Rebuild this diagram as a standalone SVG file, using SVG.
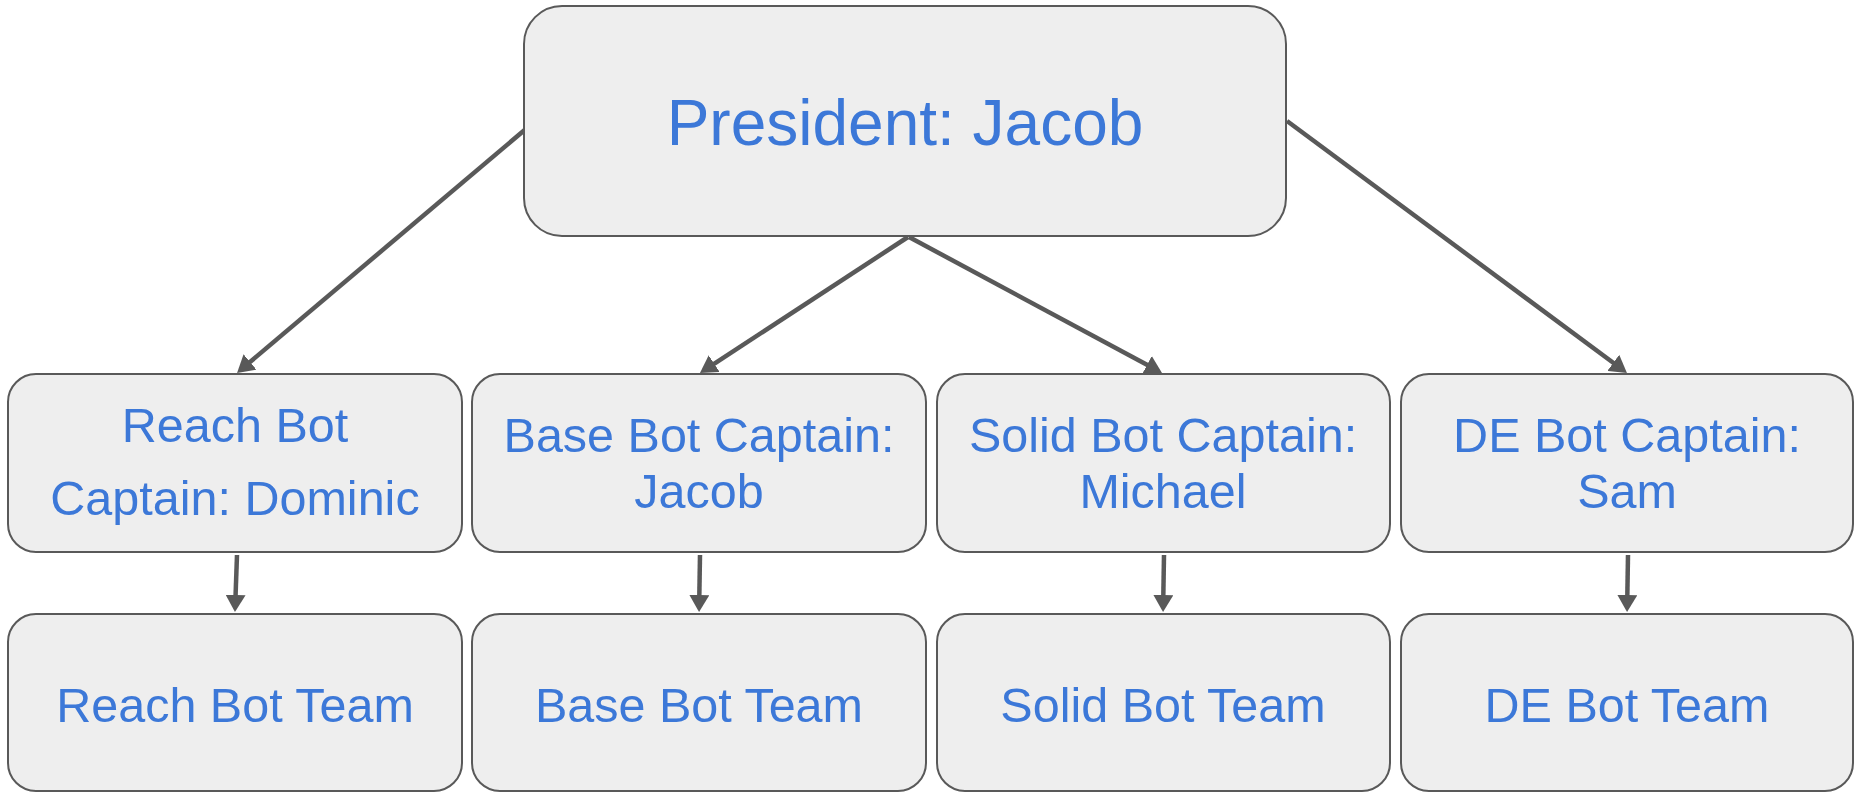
<svg xmlns="http://www.w3.org/2000/svg" width="1856" height="792" viewBox="0 0 1856 792">
<defs>
<style>
.box{fill:#eeeeee;stroke:#595959;stroke-width:2}
.t{fill:#3c78d8;font-family:"Liberation Sans",Arial,sans-serif;font-size:48.5px;text-anchor:middle}
.big{font-size:64px}
.c{stroke:#595959;stroke-width:4.5;fill:none;marker-end:url(#ah)}
</style>
<marker id="ah" markerUnits="userSpaceOnUse" markerWidth="19" markerHeight="20" refX="2" refY="10" orient="auto" viewBox="0 0 19 20">
<path d="M0,0 L17,10 L0,20 z" fill="#595959"/>
</marker>
</defs>
<rect width="1856" height="792" fill="#ffffff"/>
<g id="connectors">
<line class="c" x1="527" y1="128" x2="248.5" y2="363.3"/>
<line class="c" x1="908" y1="237" x2="712.5" y2="364.8"/>
<line class="c" x1="909" y1="237" x2="1148.8" y2="365.8"/>
<line class="c" x1="1287" y1="121" x2="1614.9" y2="364"/>
<line class="c" x1="237" y1="555" x2="235.5" y2="597"/>
<line class="c" x1="700" y1="555" x2="699.3" y2="597"/>
<line class="c" x1="1164" y1="555" x2="1163.3" y2="597"/>
<line class="c" x1="1628" y1="555" x2="1627.3" y2="597"/>
</g>
<g id="president">
<rect class="box" x="524" y="6" width="762" height="230" rx="38"/>
<text class="t big" x="905" y="145">President: Jacob</text>
</g>
<g id="reach-captain">
<rect class="box" x="8" y="374" width="454" height="178" rx="28"/>
<text class="t" x="235" y="442">Reach Bot</text>
<text class="t" x="235" y="515">Captain: Dominic</text>
</g>
<g id="base-captain">
<rect class="box" x="472" y="374" width="454" height="178" rx="28"/>
<text class="t" x="699" y="452">Base Bot Captain:</text>
<text class="t" x="699" y="508">Jacob</text>
</g>
<g id="solid-captain">
<rect class="box" x="937" y="374" width="453" height="178" rx="28"/>
<text class="t" x="1163" y="452">Solid Bot Captain:</text>
<text class="t" x="1163" y="508">Michael</text>
</g>
<g id="de-captain">
<rect class="box" x="1401" y="374" width="452" height="178" rx="28"/>
<text class="t" x="1627" y="452">DE Bot Captain:</text>
<text class="t" x="1627" y="508">Sam</text>
</g>
<g id="reach-team">
<rect class="box" x="8" y="614" width="454" height="177" rx="28"/>
<text class="t" x="235" y="722">Reach Bot Team</text>
</g>
<g id="base-team">
<rect class="box" x="472" y="614" width="454" height="177" rx="28"/>
<text class="t" x="699" y="722">Base Bot Team</text>
</g>
<g id="solid-team">
<rect class="box" x="937" y="614" width="453" height="177" rx="28"/>
<text class="t" x="1163" y="722">Solid Bot Team</text>
</g>
<g id="de-team">
<rect class="box" x="1401" y="614" width="452" height="177" rx="28"/>
<text class="t" x="1627" y="722">DE Bot Team</text>
</g>
</svg>
